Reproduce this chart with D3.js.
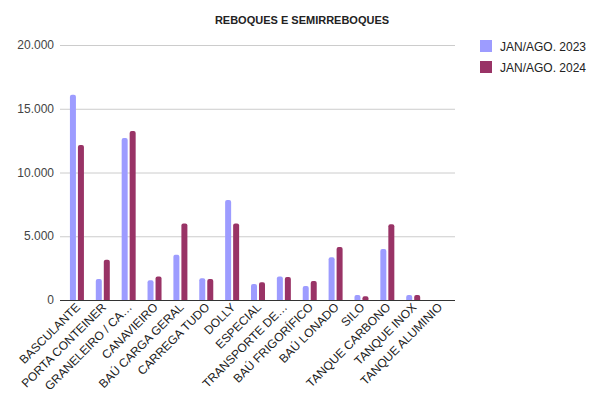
<!DOCTYPE html>
<html>
<head>
<meta charset="utf-8">
<script src="https://cdn.jsdelivr.net/npm/d3@7"></script>
<style>
  body { margin: 0; background: #fff; }
  text { font-family: Arial, "Liberation Sans", sans-serif; }
</style>
</head>
<body>
<div id="chart"></div>
<script>
var categories = ["BASCULANTE", "PORTA CONTEINER", "GRANELEIRO / CA…", "CANAVIEIRO",
    "BAÚ CARGA GERAL", "CARREGA TUDO", "DOLLY", "ESPECIAL", "TRANSPORTE DE…",
    "BAÚ FRIGORÍFICO", "BAÚ LONADO", "SILO", "TANQUE CARBONO", "TANQUE INOX",
    "TANQUE ALUMINIO"];
var seriesNames = ["JAN/AGO. 2023", "JAN/AGO. 2024"];
var values2023 = [16100, 1650, 12700, 1550, 3550, 1700, 7850, 1250, 1850, 1100, 3350, 400, 4000, 400, 0];
var values2024 = [12150, 3150, 13250, 1850, 6000, 1650, 6000, 1400, 1800, 1500, 4150, 300, 5950, 400, 0];
var yTicks = [0, 5000, 10000, 15000, 20000];
var colors = ["#9d9cff", "#993366"];

var W = 603, H = 408;
var svg = d3.select('#chart').append('svg')
    .attr('width', W)
    .attr('height', H);

var x = d3.scaleBand().domain(categories).range([64, 452]);
var y = d3.scaleLinear().domain([0, 20000]).range([300, 45]);

// gridlines + y labels
var fmt = function(v) { return d3.format(',')(v).replace(/,/g, '.'); };
svg.append('g').selectAll('line')
    .data(yTicks.filter(function(t) { return t > 0; }))
    .enter().append('line')
    .attr('x1', 60).attr('x2', 455)
    .attr('y1', function(d) { return y(d) + 0.5; })
    .attr('y2', function(d) { return y(d) + 0.5; })
    .attr('stroke', '#cccccc')
    .attr('stroke-width', 1);

svg.append('g').selectAll('text')
    .data(yTicks)
    .enter().append('text')
    .attr('x', 54)
    .attr('y', function(d) { return y(d) + 4; })
    .attr('text-anchor', 'end')
    .attr('font-size', 12)
    .attr('fill', '#444')
    .text(fmt);

// bars, rounded tops
var series = [values2023, values2024];
var barW = 6, gap = 2;
series.forEach(function(vals, si) {
    svg.append('g').selectAll('path')
        .data(vals.map(function(v, i) { return {c: categories[i], v: v}; }).filter(function(d) { return d.v > 0; }))
        .enter().append('path')
        .attr('fill', colors[si])
        .attr('d', function(d) {
            var cx = x(d.c) + x.bandwidth() / 2;
            var x0 = si === 0 ? cx - gap / 2 - barW : cx + gap / 2,
                x1 = x0 + barW,
                y0 = y(d.v), yb = y(0), r = 2;
            return 'M' + x0 + ',' + yb + 'V' + (y0 + r) +
                'Q' + x0 + ',' + y0 + ' ' + (x0 + r) + ',' + y0 +
                'H' + (x1 - r) + 'Q' + x1 + ',' + y0 + ' ' + x1 + ',' + (y0 + r) +
                'V' + yb + 'Z';
        });
});

// baseline
svg.append('line')
    .attr('x1', 60).attr('x2', 455)
    .attr('y1', 300.5).attr('y2', 300.5)
    .attr('stroke', '#333')
    .attr('stroke-width', 1);

// x labels, rotated
svg.append('g').selectAll('text')
    .data(categories)
    .enter().append('text')
    .attr('transform', function(d) {
        return 'translate(' + (x(d) + x.bandwidth() / 2 + 4) + ',308) rotate(-45)';
    })
    .attr('text-anchor', 'end')
    .attr('font-size', 12)
    .attr('fill', '#222')
    .text(function(d) { return d; });

// title
svg.append('text')
    .attr('x', 302).attr('y', 24)
    .attr('text-anchor', 'middle')
    .attr('font-size', 11)
    .attr('font-weight', 'bold')
    .attr('fill', '#222')
    .text('REBOQUES E SEMIRREBOQUES');

// legend
var leg = svg.append('g').selectAll('g')
    .data(seriesNames)
    .enter().append('g')
    .attr('transform', function(d, i) { return 'translate(480,' + (40 + i * 21) + ')'; });
leg.append('rect')
    .attr('width', 12).attr('height', 12)
    .attr('fill', function(d, i) { return colors[i]; });
leg.append('text')
    .attr('x', 20).attr('y', 10.5)
    .attr('font-size', 12)
    .attr('fill', '#222')
    .text(function(d) { return d; });
</script>
</body>
</html>
